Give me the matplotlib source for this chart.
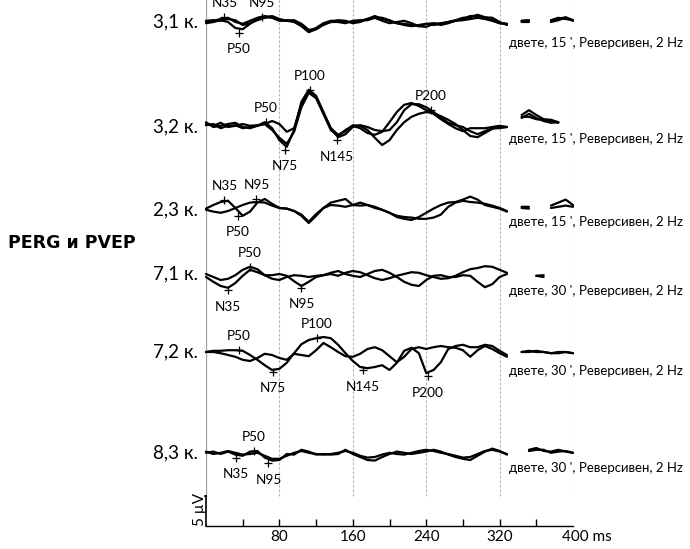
import numpy as np
import matplotlib
matplotlib.use("Agg")
import matplotlib.pyplot as plt

# ---------------- data ----------------
t_ms = np.arange(0, 401, 8)          # sampling grid of the traces, ms
nan = np.nan

group_labels = ["3,1 к.", "3,2 к.", "2,3 к.", "7,1 к.", "7,2 к.", "8,3 к."]
conditions = ["двете, 15 ', Реверсивен, 2 Hz", "двете, 15 ', Реверсивен, 2 Hz",
              "двете, 15 ', Реверсивен, 2 Hz", "двете, 30 ', Реверсивен, 2 Hz",
              "двете, 30 ', Реверсивен, 2 Hz", "двете, 30 ', Реверсивен, 2 Hz"]

# amplitudes in µV relative to each trace's baseline
g31_a = [0, 0.2, 0.5, 0.7, 0, -0.3, 0.2, 0.7, 1.0, 0.8,
         0.3, 0.3, 0.2, -0.5, -1.5, -1.0, -0.2, 0.2, 0.2, 0,
         0, 0.2, 0.5, 1.0, 0.5, 0.2, -0.2, -0.3, -0.5, -0.7,
         -0.3, -0.5, -0.3, 0, 0.3, 0.7, 0.8, 1.2, 0.8, 0.7,
         0, -0.5, 0, 0.2, 0.2, 0, 0.2, 0.2, 0.5, 0.8,
         0.3]
g31_b = [-0.2, 0, 0.3, 0, -1.0, -1.2, -0.3, 0.5, 0.8, 0.7,
         0.2, 0.2, 0, -0.7, -1.7, -1.2, -0.3, 0, 0, -0.2,
         0.2, 0.3, 0.3, 0.7, 0.2, -0.2, 0, 0.2, -0.2, -0.7,
         -0.8, -0.3, -0.2, 0, 0.2, 0.3, 0.5, 0.7, 0.5, 0.2,
         -0.2, -0.3, -0.2, 0, 0, 0.2, 0, 0, 0.3, 0.7,
         0.2]
g31_c = [0.2, 0.3, 0.2, 0.5, 0.3, -0.5, -0.2, 0.3, 0.7, 1.0,
         0.5, 0.2, 0.3, -0.3, -1.3, -1.2, -0.5, 0, 0.3, 0.2,
         -0.2, 0, 0.5, 0.8, 0.7, 0.3, -0.2, -0.5, -0.7, -0.5,
         -0.3, -0.2, -0.5, -0.2, 0.2, 0.5, 1.0, 1.0, 0.7, 0.3,
         -0.2, -0.3, -0.2, 0.2, 0.3, 0, 0, 0.3, 0.7, 0.5,
         0.3]

g32_a = [0.8, 0, 0.2, 0.5, 0.7, 0, -0.2, 0.2, 0.8, -0.2,
         -2.2, -3.3, -0.5, 4.2, 6.2, 5.2, 2.5, -0.2, -1.7, -1.2,
         0, 0.3, 0, -0.5, -0.7, -0.5, 0.8, 2.8, 3.8, 3.8,
         3.3, 2.5, 1.5, 0.7, 0.3, 0, -0.7, -1.2, -0.7, -0.2,
         -0.2, 0, 0.8, 2.0, 2.8, 2.0, 1.3, 1.2, 0.8, nan,
         nan]
g32_b = [0.3, 0.5, -0.2, 0.2, 0.3, -0.2, 0, 0.2, 0.5, 1.0,
         0.5, -0.8, -0.2, 3.7, 6.0, 5.0, 2.3, -0.2, -1.3, -0.7,
         0.3, 0.2, -0.5, -1.8, -3.0, -2.2, -0.5, 0.8, 1.7, 2.2,
         2.5, 2.3, 1.8, 1.2, 0.5, -0.5, -1.5, -1.7, -1.0, -0.3,
         0, 0, 1.2, 1.7, 1.7, 1.3, 1.2, 1.0, 0.7, nan,
         nan]
g32_c = [0.5, 0.2, 0.7, 0, 0.2, 0.5, 0.2, 0.3, 0.5, -0.5,
         -1.8, -2.8, -0.8, 3.3, 5.7, 4.8, 2.2, -0.5, -1.5, -0.5,
         0.2, -0.2, -1.0, -1.3, -0.8, 0.8, 2.5, 3.7, 4.0, 3.5,
         2.8, 2.2, 1.3, 0.5, -0.2, -0.7, -0.2, -0.2, -0.2, 0,
         0.2, 0, 0.5, 1.5, 2.2, 1.5, 1.0, 0.7, 0.8, nan,
         nan]

g23_a = [0.2, 0.8, 1.3, 1.5, 0.3, -1.0, -0.3, 1.2, 1.8, 1.0,
         0.3, 0.2, -0.2, -1.0, -2.2, -1.0, 0.3, 0.8, 0.7, 0.5,
         0.8, 1.2, 0.8, 0.3, 0, -0.5, -1.2, -1.5, -1.7, -1.2,
         -0.5, 0.2, 0.8, 1.2, 1.3, 1.7, 2.2, 1.7, 0.8, 0.5,
         0.2, -0.3, 0, 0.5, 0.5, 0.3, 0.5, 0.7, 1.2, 1.7,
         0.8]
g23_b = [0, -0.3, -0.5, -0.2, 0.3, 0.8, 1.2, 1.3, 1.2, 0.7,
         0.3, 0.2, -0.2, -0.8, -2.0, -0.7, 0.3, 1.2, 1.5, 1.8,
         0.8, 0.7, 0.8, 0.5, 0, -0.5, -1.0, -1.2, -1.3, -1.5,
         -1.5, -1.3, -0.8, 0.5, 1.2, 1.5, 1.3, 1.2, 1.0, 0.7,
         0.3, -0.2, 0, 0.3, 0.2, 0, 0.2, 0.3, 0.5, 0.7,
         0.5]

g71_a = [0, -0.5, -1.0, -0.8, -0.2, 0.7, 1.2, 0.8, -0.2, -0.8,
         -1.0, -0.5, -0.2, -0.3, -0.5, -0.3, -0.2, 0, -0.3, 0.2,
         0.5, 0.3, -0.2, -0.7, -1.0, -0.7, -0.3, 0, 0.3, 0.2,
         -0.2, -0.5, -0.8, -0.7, -0.3, 0.3, 0.8, 1.0, 1.3, 1.2,
         0.7, 0.2, 0, -0.2, -0.3, -0.3, -0.2, -0.2, -0.2, 0,
         -0.2]
g71_b = [-0.5, -1.3, -2.0, -2.3, -1.5, -0.3, 0.7, 0.3, -0.2, -0.2,
         0, -0.3, -1.2, -2.0, -1.3, -0.5, -0.2, 0.2, 0.5, 0,
         -0.3, -0.5, 0, 0.5, 0.7, 0.2, -0.5, -1.3, -1.8, -2.0,
         -1.0, -0.3, -0.2, -0.5, -0.5, -0.2, -0.3, -1.3, -2.2, -1.7,
         -0.5, 0, -0.3, -0.3, -0.5, -0.3, -0.5, -0.5, -0.3, -0.3,
         -0.3]

g72_a = [0, 0, -0.2, -0.5, -0.8, -1.3, -1.5, -1.0, -0.3, -0.5,
         -1.0, -1.3, -0.3, -0.5, -0.7, 0.3, 1.5, 0.8, 0, -0.7,
         -0.8, -0.3, 0.5, 0.8, 0.3, -0.7, -1.7, -0.8, 0.5, 0.8,
         0.5, 0.8, 1.0, 0.8, 0.7, 0.3, -0.8, 0.3, 1.0, 0.5,
         -0.2, -0.8, 0, 0, 0, 0.2, 0, -0.2, 0, 0,
         -0.2]
g72_b = [0, 0.2, 0.2, 0.3, 0.3, 0.2, -0.5, -1.3, -2.2, -3.0,
         -2.8, -1.8, -0.2, 1.3, 2.0, 2.3, 2.5, 2.3, 1.2, -0.2,
         -1.5, -2.5, -2.7, -2.5, -2.2, -3.0, -1.8, 0.2, 0.7, -0.2,
         -3.5, -3.0, -1.7, 0.5, 1.0, 1.2, 0.8, 0.8, 1.2, 1.0,
         0.2, -0.5, 0, 0, 0.2, 0, 0, -0.2, -0.2, 0,
         -0.2]

g83_a = [0, 0.2, -0.2, 0.2, -0.3, -0.5, 0.2, 0.3, -0.8, -1.3,
         -1.2, -0.2, -0.3, 0.5, 0.2, -0.3, -0.2, -0.3, -0.2, 0.5,
         -0.2, -0.7, -1.2, -1.3, -0.7, -0.2, 0.2, 0, -0.2, 0,
         0.2, 0.5, 0.2, -0.3, -0.7, -1.0, -1.2, -0.5, 0.2, 0.7,
         0.3, -0.3, 0, 0.2, 0.5, 0.8, 0.3, 0.2, 0.5, 0.2,
         0]
g83_b = [0.2, -0.2, 0, 0.3, 0, -0.3, -0.2, 0, -0.5, -1.0,
         -1.0, -0.5, 0, 0.3, 0, -0.2, -0.3, -0.2, 0, 0.3,
         0, -0.5, -0.8, -0.7, -0.3, 0, -0.2, -0.3, 0, 0.3,
         0.5, 0.3, 0, -0.2, -0.5, -0.8, -0.7, -0.2, 0.3, 0.5,
         0.2, -0.2, -0.2, 0, 0.3, 0.5, 0.5, 0, 0.2, 0.3,
         0]

traces = [[g31_a, g31_b, g31_c], [g32_a, g32_b, g32_c], [g23_a, g23_b],
          [g71_a, g71_b], [g72_a, g72_b], [g83_a, g83_b]]

# sample times (ms) that are blank in the record
gap_ms = [[336, 360, 368], [336], [336, 360, 368],
          [336, 344, 352, 376, 384, 392, 400], [336], [336, 344]]

# marked peaks: name, latency (ms), amplitude (µV)
peak_names = [["N35", "N95", "P50"], ["P50", "P100", "N75", "N145", "P200"],
              ["N35", "N95", "P50"], ["P50", "N35", "N95"],
              ["P50", "P100", "N75", "N145", "P200"], ["P50", "N35", "N95"]]
peak_ms = [[20, 61, 36], [65, 113, 86, 143, 245], [20, 55, 35], [48, 24, 104],
           [36, 121, 73, 171, 242], [52, 33, 68]]
peak_uv = [[0.8, 0.8, -1.8], [0.8, 6.2, -3.8, -2.2, 2.8], [1.7, 1.8, -1.0],
           [1.2, -2.7, -2.3], [0.3, 2.3, -3.3, -3.0, -4.0], [0.3, -0.8, -1.7]]

x_ticks = [40, 80, 120, 160, 200, 240, 280, 320, 360]
x_labels = ["80", "160", "240", "320"]
scale_uv = 5

# ---------------- layout ----------------
baselines = [84.0, 66.5, 52.7, 42.0, 29.0, 12.2]      # µV position of each row
cond_offset = [-3.5, -2.0, -2.1, -2.8, -3.1, -2.6]    # condition text below baseline
label_side = [[1, 1, -1], [1, 1, -1, -1, 1], [1, 1, -1], [1, -1, -1],
              [1, 1, -1, -1, -1], [1, -1, -1]]

plt.rcParams["font.family"] = ["Lato", "DejaVu Sans"]

W, H = 690, 549
fig = plt.figure(figsize=(W / 100, H / 100), dpi=100)
ax = fig.add_axes([206 / W, 23 / H, 367 / W, 526 / H])
ax.set_xlim(0, 400)
ytop = 526 / 6
ax.set_ylim(0, ytop)
for s in ["top", "right", "left"]:
    ax.spines[s].set_visible(False)
ax.spines["bottom"].set_color("black")
ax.spines["bottom"].set_linewidth(1.0)
ax.set_yticks([])
ax.set_xticks(x_ticks)
ax.set_xticklabels([])
ax.tick_params(axis="x", direction="in", length=5, width=1, color="black")

# guide lines
for xv in [80, 160, 240, 320, 400]:
    ax.plot([xv, xv], [scale_uv, ytop], color="#b8b8b8", lw=0.8, ls=(0, (2.5, 1.5)), zorder=1)
ax.plot([0, 0], [scale_uv, ytop], color="#a0a0a0", lw=0.9, zorder=1)
# scale bar
ax.plot([0, 0], [0, scale_uv], color="black", lw=1.2, zorder=3, clip_on=False)
ax.plot([-1.2, 0], [scale_uv, scale_uv], color="black", lw=1.2, zorder=3, clip_on=False)
ax.text(-6.0, scale_uv / 2 + 0.3, "5 µV", rotation=90, ha="center", va="center", fontsize=11)

# x labels
for lab in x_labels:
    ax.text(float(lab), -1.9, lab, ha="center", va="center", fontsize=11)
ax.text(388, -1.9, "400 ms", ha="left", va="center", fontsize=11)

t = np.asarray(t_ms, dtype=float)
for gi, (glab, base) in enumerate(zip(group_labels, baselines)):
    for tr in traces[gi]:
        y = np.asarray(tr, dtype=float) + base
        y[np.isin(t_ms, gap_ms[gi])] = np.nan
        ax.plot(t, y, color="black", lw=1.6, solid_joinstyle="round",
                solid_capstyle="round", zorder=4, clip_on=False)
    ax.text(-0.022, base, glab, transform=ax.get_yaxis_transform(), ha="right",
            va="center", fontsize=13.5)
    ax.text(330, base + cond_offset[gi], conditions[gi], ha="left", va="center",
            fontsize=9.5, zorder=5, clip_on=False)
    for name, pm, pu, side in zip(peak_names[gi], peak_ms[gi], peak_uv[gi], label_side[gi]):
        ax.plot(pm, base + pu, marker="+", ms=6, mew=0.9, color="black", zorder=5)
        ax.annotate(name, (pm, base + pu), xytext=(0, 10 if side > 0 else -12),
                    textcoords="offset points", ha="center", va="center", fontsize=9.8,
                    annotation_clip=False)

fig.text(8 / W, 1 - 243 / H, "PERG и PVEP", ha="left", va="center",
         fontsize=12.5, fontweight="bold", family=["DejaVu Sans"])

fig.savefig("out.png", dpi=100, facecolor="white")
